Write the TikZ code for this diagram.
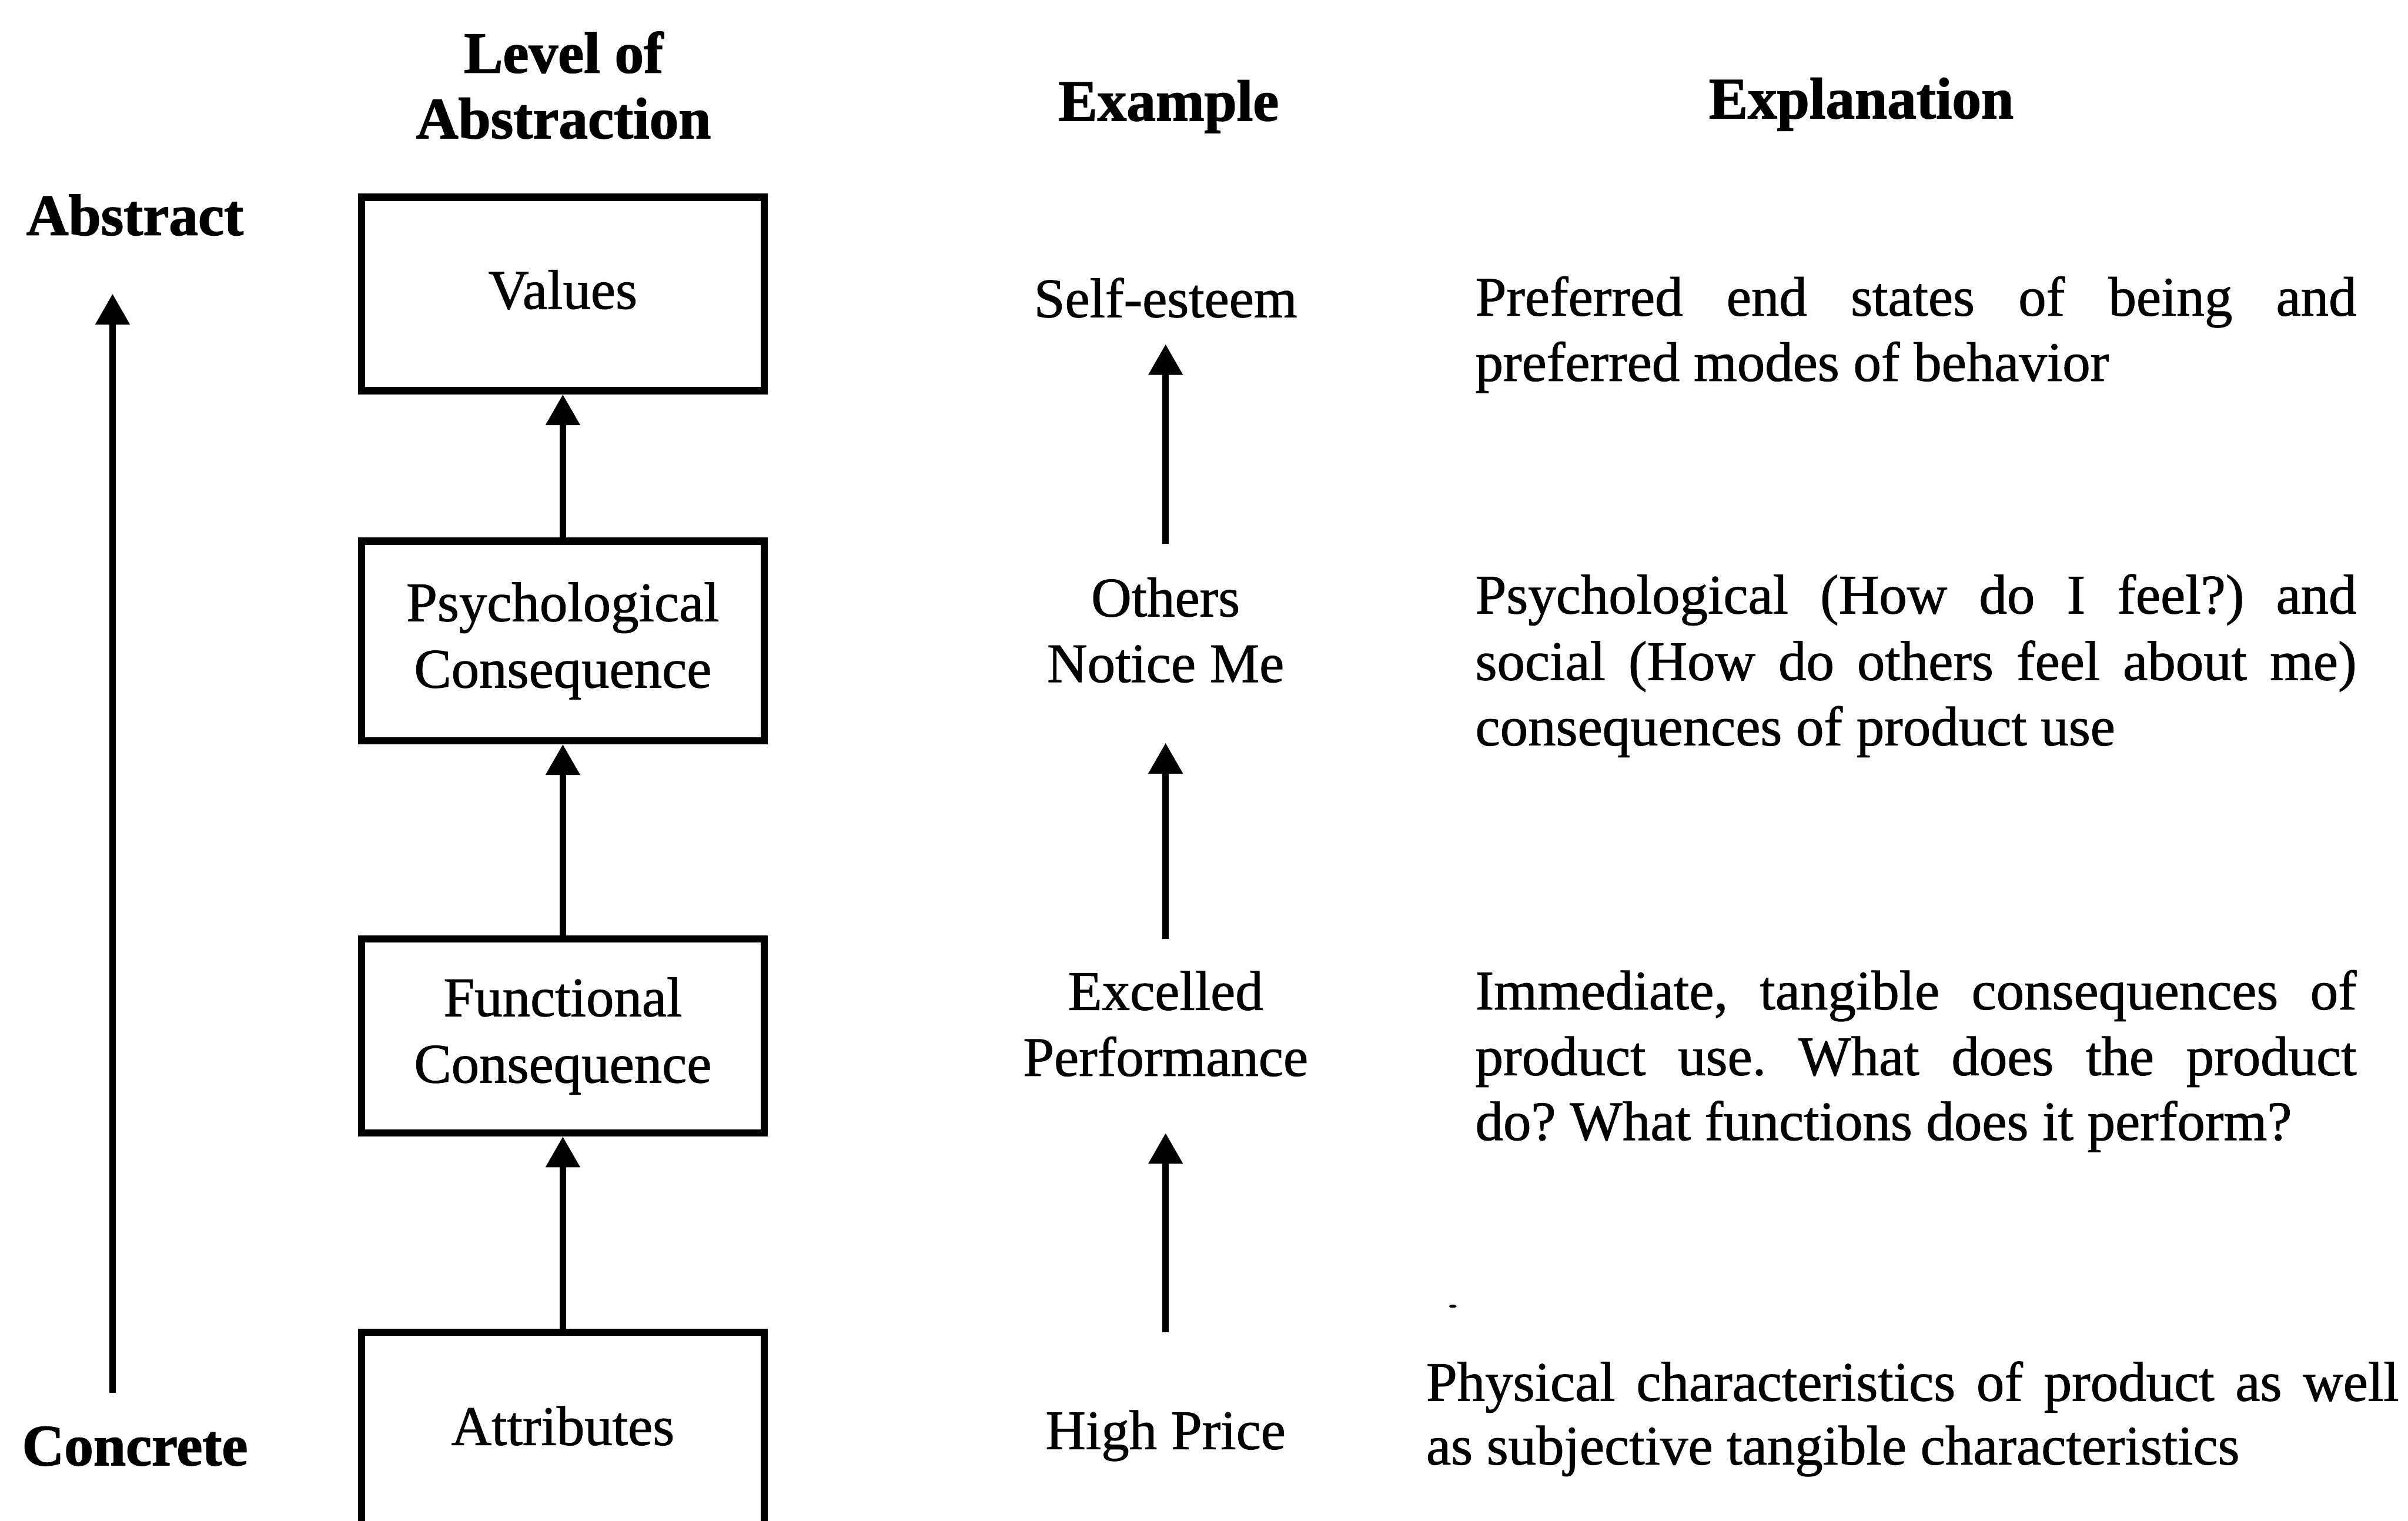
\documentclass[tikz,border=0pt]{standalone}
\usepackage{fontspec}
\usetikzlibrary{arrows.meta}
\newfontfamily\plainface{Liberation Serif}[FakeBold=1]
\newfontfamily\heavyface{Liberation Serif}[UprightFont={* Bold},FakeBold=1.5]
\newcommand\bodysize{\plainface\fontsize{10.33pt}{12.3pt}\selectfont\frenchspacing}
\newcommand\headsize{\heavyface\fontsize{10.8pt}{12.3pt}\selectfont}
\tikzset{
  level/.style={draw, line width=1.35pt, minimum width=2.622cm, align=center,
    inner sep=0pt, font=\bodysize},
  word/.style={inner sep=0pt, font=\bodysize, text height=0.254cm, text depth=0.073cm},
  heading/.style={inner sep=0pt, font=\headsize},
  uparrow/.style={line width=1.2pt, -{Triangle[length=0.2cm,width=0.215cm]}},
}
\begin{document}
\begin{tikzpicture}[x=0.01cm,y=-0.01cm]
\useasboundingbox (0,0) rectangle (1568,990);

% column headings
\node[heading, anchor=base] (hlev1) at (367,47.3) {Level of};
\node[heading, anchor=base] (hlev2) at (367,90) {Abstraction};
\node[heading, anchor=base] (hex) at (761,78.5) {Example};
\node[heading, anchor=base] (hexp) at (1212,77) {Explanation};

% the abstract--concrete scale
\node[heading, anchor=base west] (abs) at (16.5,153) {Abstract};
\node[heading, anchor=base west] (conc) at (13.7,954) {Concrete};
\coordinate (scalelo) at (73.3,907);
\coordinate (scalehi) at (73.3,191.3);
\draw[uparrow] (scalelo) -- (scalehi);

% the four levels of the ladder
\node[level, minimum height=1.26cm, text height=0.254cm, text depth=0.062cm] (val) at (366.5,191.4) {Values};
\node[level, minimum height=1.298cm] (psy) at (366.5,417.3) {Psychological\\Consequence};
\node[level, minimum height=1.262cm] (fun) at (366.5,674.5) {Functional\\Consequence};
\node[level, minimum height=1.32cm, text height=0.254cm, text depth=0.106cm] (att) at (366.5,933.4) {Attributes};
\draw[uparrow] (psy.north) -- (val.south);
\draw[uparrow] (fun.north) -- (psy.south);
\draw[uparrow] (att.north) -- (fun.south);

% example chain
\node[word, anchor=base] (ex1) at (759,206.5) {Self-esteem};
\node[word, anchor=base] (ex2a) at (759,401.3) {Others};
\node[word, anchor=base] (ex2b) at (759,444.1) {Notice Me};
\node[word, anchor=base] (ex3a) at (759,657.5) {Excelled};
\node[word, anchor=base] (ex3b) at (759,700.5) {Performance};
\node[word, anchor=base] (ex4) at (759,943.5) {High Price};
\draw[uparrow] ([yshift=0.209cm]ex2a.north) -- ([yshift=-0.096cm]ex1.south);
\draw[uparrow] ([yshift=0.201cm]ex3a.north) -- ([yshift=-0.316cm]ex2b.south);
\draw[uparrow] ([yshift=0.501cm]ex4.north) -- ([yshift=-0.292cm]ex3b.south);

% explanations
\node[word, anchor=base west] (d1a) at (960,205.5) {\makebox[5.735cm][s]{Preferred end states of being and}};
\node[word, anchor=base west] (d1b) at (960,248) {preferred modes of behavior};
\node[word, anchor=base west] (d2a) at (960,399.4) {\makebox[5.735cm][s]{Psychological (How do I feel?) and}};
\node[word, anchor=base west] (d2b) at (960,442.7) {\makebox[5.735cm][s]{social (How do others feel about me)}};
\node[word, anchor=base west] (d2c) at (960,485.3) {consequences of product use};
\node[word, anchor=base west] (d3a) at (960,657.2) {\makebox[5.735cm][s]{Immediate, tangible consequences of}};
\node[word, anchor=base west] (d3b) at (960,700) {\makebox[5.735cm][s]{product use. What does the product}};
\node[word, anchor=base west] (d3c) at (960,742.3) {do? What functions does it perform?};
\node[word, anchor=base west] (d4a) at (928,912) {\makebox[6.33cm][s]{Physical characteristics of product as well}};
\node[word, anchor=base west] (d4b) at (928,953.5) {as subjective tangible characteristics};

% small speck of ink
\fill (946,850.5) ellipse [x radius=0.025cm, y radius=0.01cm];
\end{tikzpicture}
\end{document}
